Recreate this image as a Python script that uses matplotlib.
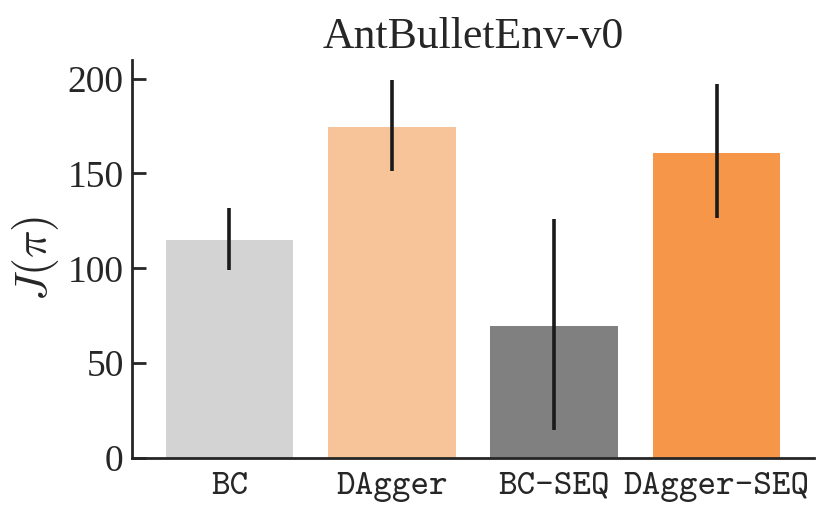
import matplotlib
matplotlib.use("Agg")
import matplotlib.pyplot as plt

methods = ["BC", "DAgger", "BC-SEQ", "DAgger-SEQ"]
means = [114.7, 174.4, 69.6, 160.9]
err_low = [99.0, 151.5, 14.8, 126.5]
err_high = [131.8, 199.0, 125.8, 197.2]
colors = ["#d3d3d3", "#f7c49a", "#808080", "#f69648"]
yticks = [0, 50, 100, 150, 200]

plt.rcParams['mathtext.fontset'] = 'cm'

fig = plt.figure(figsize=(8.30, 5.21), dpi=100)
ax = fig.add_axes([132/830, 1-458/521, (814-132)/830, (458-60)/521])

x = list(range(len(methods)))
yerr = [[m - lo for m, lo in zip(means, err_low)],
        [hi - m for m, hi in zip(means, err_high)]]
ax.bar(x, means, width=0.785, color=colors, zorder=1)
ax.errorbar(x, means, yerr=yerr, fmt='none', ecolor='#1a1a1a',
            elinewidth=2.6, capsize=0, zorder=3)

ax.set_xlim(-0.6, 3.6)
ax.set_ylim(0, 209.8)
ax.set_yticks(yticks)
ax.set_yticklabels([str(v) for v in yticks], fontfamily='Liberation Serif',
                   fontsize=27, color='#262626')
ax.set_xticks(x)
ax.set_xticklabels(methods, fontfamily='cmtt10', fontsize=25.5, color='#262626')

for s in ['top', 'right']:
    ax.spines[s].set_visible(False)
for s in ['left', 'bottom']:
    ax.spines[s].set_linewidth(2.0)
    ax.spines[s].set_color('#262626')

ax.tick_params(axis='y', direction='in', length=10, width=2.0,
               color='#262626', pad=6)
ax.tick_params(axis='x', length=0, pad=10)

ax.set_ylabel(r'$J(\pi)$', fontsize=33, color='#262626', labelpad=5)
ax.set_title('AntBulletEnv-v0', fontfamily='Liberation Serif', fontsize=31.5,
             color='#262626', pad=9)

fig.savefig('out.png', dpi=100)
